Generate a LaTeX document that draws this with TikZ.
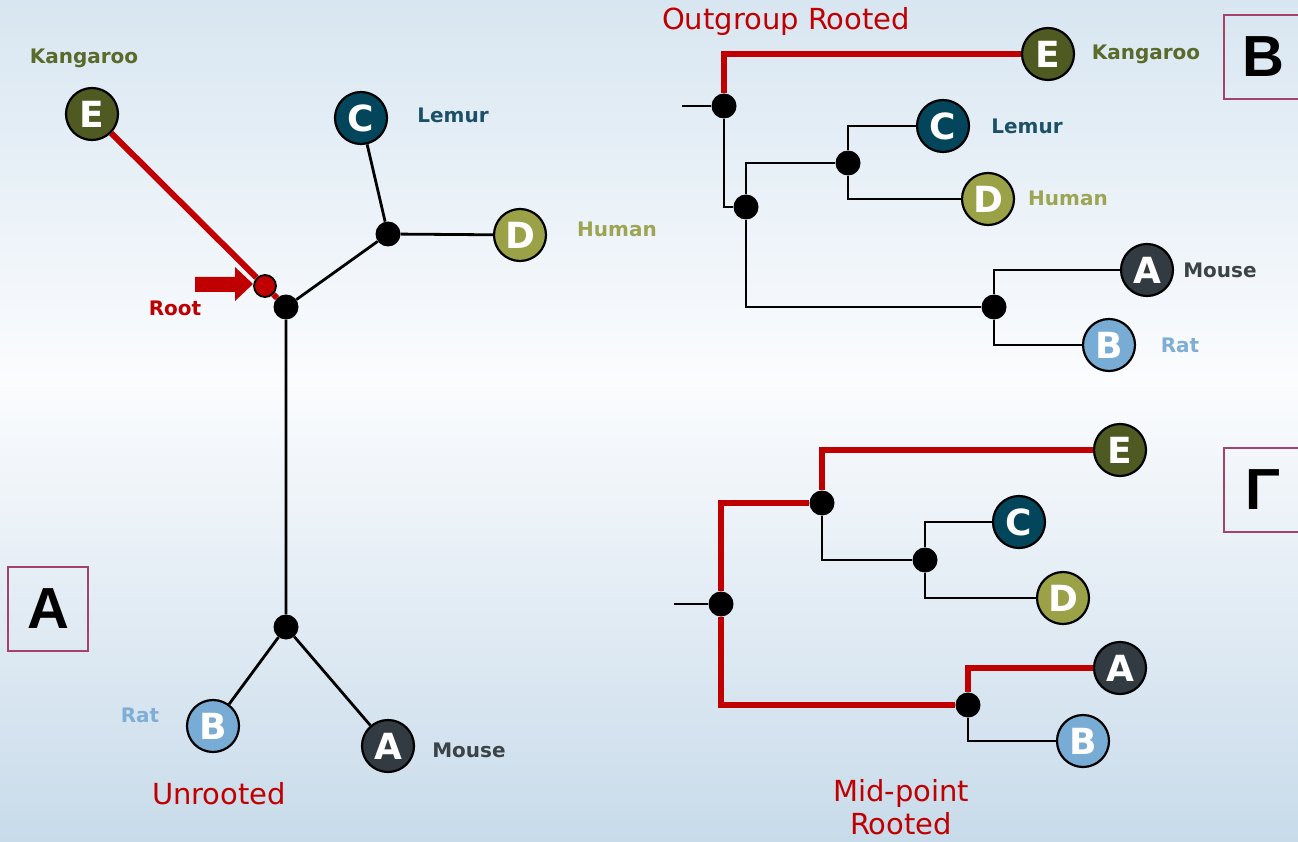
\documentclass[tikz,border=0pt]{standalone}
\usepackage{fontspec}
\setsansfont{DejaVu Sans}
\newfontfamily\boxfont{Liberation Sans}
\usetikzlibrary{positioning}

\definecolor{rootred}{HTML}{C00000}
\definecolor{bgtop}{HTML}{D8E6F1}
\definecolor{bgmid}{HTML}{FBFCFE}
\definecolor{bgbot}{HTML}{C8DBEA}
\definecolor{boxpink}{HTML}{A3436C}
\definecolor{kangcirc}{HTML}{4F5A22}
\definecolor{lemcirc}{HTML}{03465C}
\definecolor{humcirc}{HTML}{9AA146}
\definecolor{mousecirc}{HTML}{323B42}
\definecolor{ratcirc}{HTML}{78ACD4}
\definecolor{kangtext}{HTML}{5A6A2A}
\definecolor{lemtext}{HTML}{1C5068}
\definecolor{humtext}{HTML}{9DA552}
\definecolor{mousetext}{HTML}{3B4349}
\definecolor{rattext}{HTML}{7EAED6}

\newcommand{\taxonfont}{\sffamily\bfseries\fontsize{36}{36}\selectfont}
\newcommand{\speciesfont}{\sffamily\bfseries\fontsize{20}{20}\selectfont}
\newcommand{\treetitlefont}{\sffamily\fontsize{29}{33}\selectfont}
\newcommand{\panelletterfont}{\boxfont\bfseries\fontsize{58}{58}\selectfont}

\tikzset{
	taxon/.style = {circle, draw = black, line width = 2.2pt, minimum size = 52pt, inner sep = 0pt, font = \taxonfont, text = white},
	fork/.style = {circle, fill = black, minimum size = 25pt, inner sep = 0pt},
	rootdot/.style = {circle, fill = rootred, draw = black, line width = 1.8pt, minimum size = 22pt, inner sep = 0pt},
	branch/.style = {line width = 2.8pt, black},
	redbranch/.style = {line width = 6pt, rootred},
	species/.style = {font = \speciesfont},
	treetitle/.style = {font = \treetitlefont, text = rootred, align = center},
	panelbox/.style = {draw = boxpink, line width = 1.2pt, minimum width = 80pt, minimum height = 84pt, inner sep = 0pt, font = \panelletterfont},
}

\begin{document}
\begin{tikzpicture}[x = 1pt, y = -1pt]
	% background
	\useasboundingbox (0, 0) rectangle (1298, 842);
	\shade [top color = bgtop, bottom color = bgmid] (0, 0) rectangle (1298, 380);
	\shade [top color = bgmid, bottom color = bgbot] (0, 380) rectangle (1298, 842);

	% Unrooted tree
	\begin{scope} []
	\node [fork] (ua1) at (286, 307) {};
	\node [fork] (ua2) at (388, 234) {};
	\node [fork] (ua3) at (286, 627) {};
	\node [rootdot] (ra) at (265, 286) {};
	\node [taxon, fill = kangcirc] (ea) at (92, 114) {E};
	\node [taxon, fill = lemcirc] (ca) at (361, 118) {C};
	\node [taxon, fill = humcirc] (da) at (520, 235) {D};
	\node [taxon, fill = mousecirc] (aa) at (388, 746) {A};
	\node [taxon, fill = ratcirc] (ba) at (213, 726) {B};
	\draw [redbranch] (ea) -- (ra) (ra) -- (ua1);
	\draw [branch] (ua1) -- (ua2) (ua2) -- (ca) (ua2) -- (da)
		(ua1) -- (ua3) (ua3) -- (ba) (ua3) -- (aa);
	\fill [rootred] (195, 277) -- (235, 277) -- (235, 267) -- (253, 284) -- (235, 301) -- (235, 292) -- (195, 292) -- cycle;
	\node [species, text = kangtext] at (84, 58) {Kangaroo};
	\node [species, text = lemtext] at (453, 115) {Lemur};
	\node [species, text = humtext] at (617, 229) {Human};
	\node [species, text = rattext] at (140, 715) {Rat};
	\node [species, text = mousetext] at (469, 750) {Mouse};
	\node [species, text = rootred] at (175, 308) {Root};
	\node [treetitle] at (219, 794) {Unrooted};
	\node [panelbox] (pa) at (48, 609) {A};
	\end{scope}

	% Outgroup rooted tree
	\begin{scope} []
	\coordinate (obs) at (682, 106);
	\node [fork] (ob1) at (724, 106) {};
	\node [fork] (ob2) at (746, 207) {};
	\node [fork] (ob3) at (848, 163) {};
	\node [fork] (ob4) at (994, 307) {};
	\node [taxon, fill = kangcirc] (eb) at (1048, 54) {E};
	\node [taxon, fill = lemcirc] (cb) at (943, 126) {C};
	\node [taxon, fill = humcirc] (db) at (988, 199) {D};
	\node [taxon, fill = mousecirc] (ab) at (1147, 270) {A};
	\node [taxon, fill = ratcirc] (bb) at (1109, 345) {B};
	\draw [redbranch] (ob1) |- (eb);
	\draw [branch] (obs) -- (ob1) (ob1) |- (ob2)
		(ob2) |- (ob3) (ob2) |- (ob4)
		(ob3) |- (cb) (ob3) |- (db)
		(ob4) |- (ab) (ob4) |- (bb);
	\node [species, text = kangtext] at (1146, 54) {Kangaroo};
	\node [species, text = lemtext] at (1027, 126) {Lemur};
	\node [species, text = humtext] at (1068, 198) {Human};
	\node [species, text = mousetext] at (1220, 270) {Mouse};
	\node [species, text = rattext] at (1180, 345) {Rat};
	\node [treetitle] at (786, 22) {Outgroup Rooted};
	\node [panelbox, minimum width = 78pt] (pb) at (1263, 57) {B};
	\end{scope}

	% Mid-point rooted tree
	\begin{scope} []
	\coordinate (mgs) at (674, 604);
	\node [fork] (mg1) at (721, 604) {};
	\node [fork] (mg2) at (822, 503) {};
	\node [fork] (mg3) at (925, 560) {};
	\node [fork] (mg4) at (968, 705) {};
	\node [taxon, fill = kangcirc] (eg) at (1120, 450) {E};
	\node [taxon, fill = lemcirc] (cg) at (1019, 522) {C};
	\node [taxon, fill = humcirc] (dg) at (1063, 598) {D};
	\node [taxon, fill = mousecirc] (ag) at (1120, 668) {A};
	\node [taxon, fill = ratcirc] (bg) at (1083, 741) {B};
	\draw [redbranch] (mg1) |- (mg2) (mg2) |- (eg)
		(mg1) |- (mg4) (mg4) |- (ag);
	\draw [branch] (mgs) -- (mg1) (mg2) |- (mg3)
		(mg3) |- (cg) (mg3) |- (dg) (mg4) |- (bg);
	\node [treetitle] at (901, 807) {Mid-point\\Rooted};
	\node [panelbox, minimum width = 78pt] (pg) at (1263, 490) {Γ};
	\end{scope}
\end{tikzpicture}
\end{document}
